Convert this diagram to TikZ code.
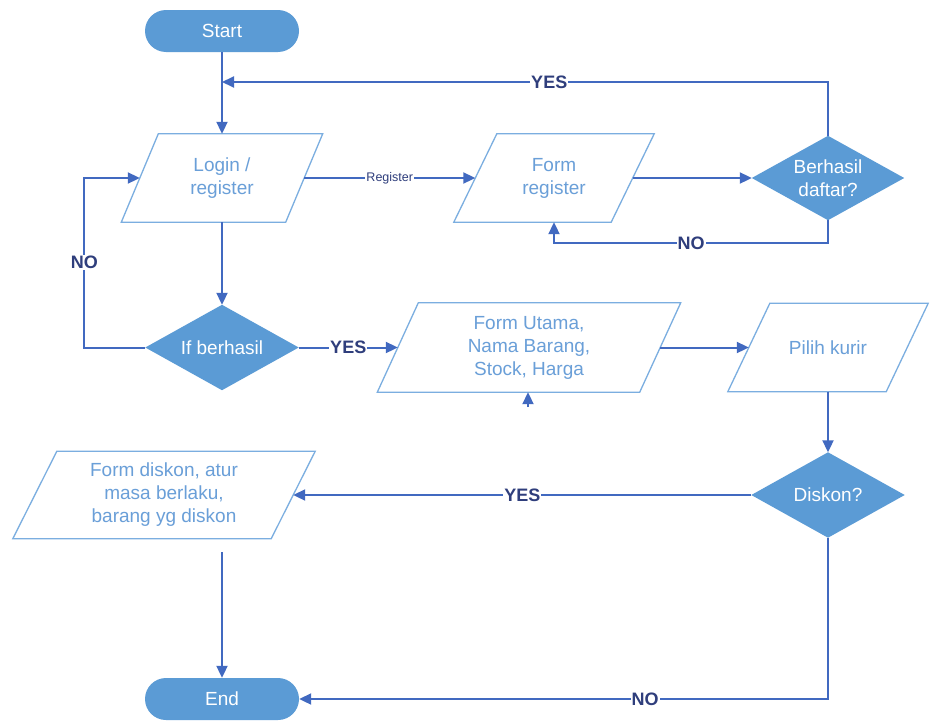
\documentclass[tikz,border=0pt]{standalone}
\usepackage{fontspec}
\setmainfont{Liberation Sans}
\usetikzlibrary{arrows.meta,backgrounds}
\definecolor{fillb}{HTML}{5B9BD5}
\definecolor{lineb}{HTML}{4169C0}
\definecolor{textb}{HTML}{6A9FD8}
\definecolor{edgeb}{HTML}{7BAEE0}
\definecolor{lab}{HTML}{2F3E7C}
\newcommand\pgram[2]{\draw[edgeb, line width=1.3pt] ([xshift=#2]#1.north west) -- ([xshift=#2]#1.north east) -- ([xshift=-#2]#1.south east) -- ([xshift=-#2]#1.south west) -- cycle;}
\newcommand\dmd[1]{\fill[fillb] (#1.north) -- (#1.east) -- (#1.south) -- (#1.west) -- cycle;}
\begin{document}
\begin{tikzpicture}[x=1pt,y=-1pt,
 term/.style={fill=fillb, rounded corners=21pt, minimum width=154pt, minimum height=42pt, text=white, font=\fontsize{19}{23}\selectfont, inner sep=0pt},
 io/.style={inner sep=0pt, minimum height=88pt, text=textb, font=\fontsize{19}{23}\selectfont, align=center},
 dec/.style={inner sep=0pt, minimum width=153pt, minimum height=85pt, text=white, font=\fontsize{19}{23}\selectfont, align=center},
 arr/.style={draw=lineb, line width=2pt, -{Triangle[length=12pt,width=11pt]}},
 lbl/.style={fill=white, text=lab, font=\bfseries\fontsize{18}{20}\selectfont, inner sep=1pt},
 slbl/.style={fill=white, text=lab, font=\fontsize{12.5}{14}\selectfont, inner sep=1pt}]
\useasboundingbox (0,0) rectangle (933,720);
% nodes
\node[term] (start) at (222,31) {Start};
\node[io, minimum width=164pt] (login) at (222,178) {Login /\\register};
\node[io, minimum width=157pt] (freg) at (554,178) {Form\\register};
\node[dec, minimum width=152pt, minimum height=84pt] (bd) at (828,178) {Berhasil\\daftar?};
\node[dec] (ifb) at (222,347.5) {If berhasil};
\node[io, minimum width=262pt, minimum height=89pt] (utama) at (529,347.5) {Form Utama,\\Nama Barang,\\Stock, Harga};
\node[io, minimum width=158pt] (pk) at (828,347.5) {Pilih kurir};
\node[dec] (dk) at (828,495) {Diskon?};
\node[io, minimum width=258pt, minimum height=87pt] (fd) at (164,495) {Form diskon, atur\\masa berlaku,\\barang yg diskon};
\node[term] (end) at (222,699) {End};
\coordinate (yj) at (222,82);
\coordinate (stub) at (528,407);
\coordinate (fdout) at (222,552);
% shapes
\pgram{login}{18.5pt}
\pgram{freg}{21.5pt}
\pgram{utama}{20.5pt}
\pgram{pk}{21pt}
\pgram{fd}{22pt}
\begin{pgfonlayer}{background}
\fill[white] (0,0) rectangle (933,720);
\dmd{bd}
\dmd{ifb}
\dmd{dk}
\end{pgfonlayer}
% connectors
\draw[arr] (start) -- (login);
\draw[arr] (bd.north) |- node[lbl, pos=0.73] {YES} (yj);
\draw[arr] (login.east) -- node[slbl] {Register} (freg.west);
\draw[arr] (freg.east) -- (bd.west);
\draw[arr] (bd.south) -- ++(0,23) -| node[lbl, pos=0.25] {NO} (freg.south);
\draw[arr] (login) -- (ifb);
\draw[arr] (ifb.west) -- ++(-61,0) |- node[lbl, pos=0.25] {NO} (login.west);
\draw[arr] (ifb.east) -- node[lbl, pos=0.5] {YES} (utama.west);
\draw[arr] (stub) -- (utama.south -| stub);
\draw[arr] (utama.east) -- (pk.west);
\draw[arr] (pk.south) -- (dk.north);
\draw[arr] (dk.west) -- node[lbl] {YES} (fd.east);
\draw[arr] (fdout) -- (end.north);
\draw[arr] (dk.south) |- node[lbl, pos=0.673] {NO} (end.east);
\end{tikzpicture}
\end{document}
